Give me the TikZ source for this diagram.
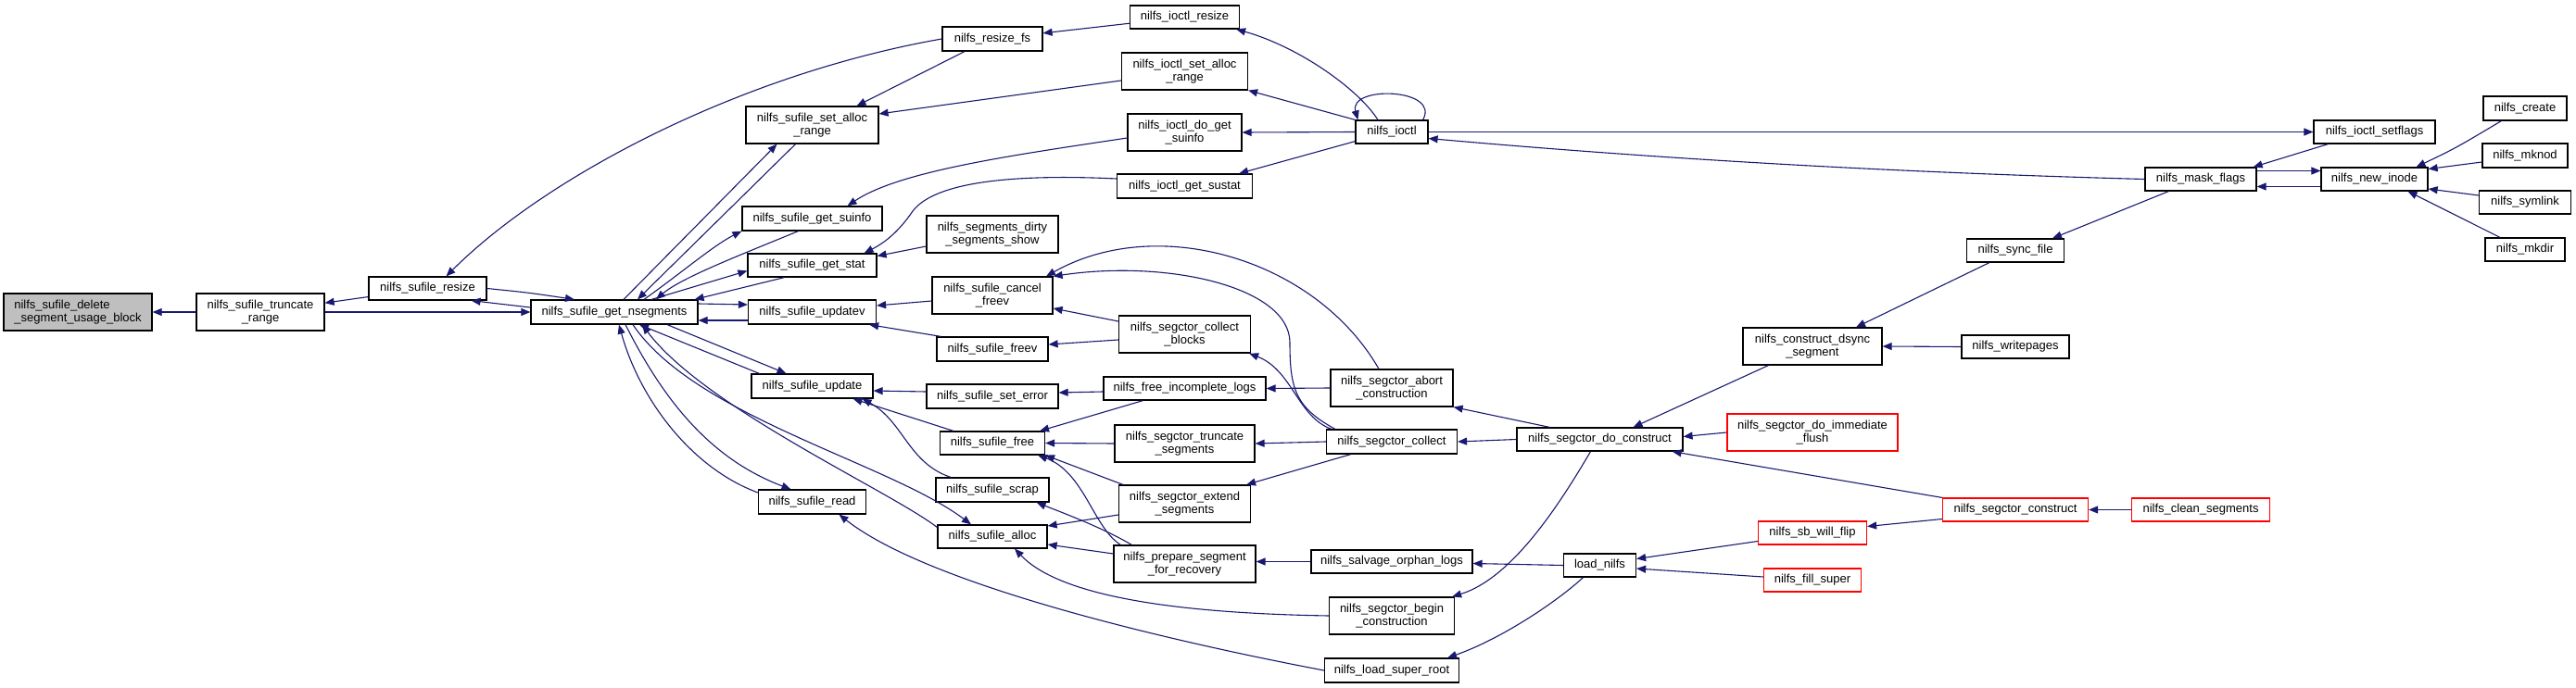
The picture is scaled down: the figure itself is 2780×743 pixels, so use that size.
\documentclass[tikz,border=0pt]{standalone}
\usepackage{fontspec}
\setmainfont{Liberation Sans}
\usetikzlibrary{arrows.meta,calc}
\definecolor{edgeblue}{HTML}{191970}
\definecolor{nodegray}{HTML}{BFBFBF}
\definecolor{nodered}{HTML}{FF0000}
\begin{document}
\begin{tikzpicture}[x=1pt,y=-1pt,
  nd/.style={draw=black, line width=1.2pt, fill=white, inner sep=0pt, align=center, font=\fontsize{13}{14.5}\selectfont},
  rednd/.style={nd, draw=nodered},
  sz/.style 2 args={minimum width=#1pt, minimum height=#2pt},
  edge/.style={draw=edgeblue, line width=1.1pt, -{Triangle[length=10pt,width=8pt]}}]
\useasboundingbox (0,0) rectangle (2780,743);
% column 0-2
\node[nd, sz={160}{40}, fill=nodegray, align=left] (del) at (84,337) {nilfs\_sufile\_delete\\\_segment\_usage\_block};
\node[nd, sz={138}{40}] (trunc) at (281,337) {nilfs\_sufile\_truncate\\\_range};
\node[nd, sz={127}{25}] (resize) at (461.5,311.5) {nilfs\_sufile\_resize};
\node[nd, sz={180}{26}] (nseg) at (663,337) {nilfs\_sufile\_get\_nsegments};
% column B
\node[nd, sz={143}{40}] (setalloc) at (876.5,135) {nilfs\_sufile\_set\_alloc\\\_range};
\node[nd, sz={151}{26}] (getsuinfo) at (876.5,236) {nilfs\_sufile\_get\_suinfo};
\node[nd, sz={139}{25}] (getstat) at (876.5,286.5) {nilfs\_sufile\_get\_stat};
\node[nd, sz={138}{26}] (updatev) at (876.5,337) {nilfs\_sufile\_updatev};
\node[nd, sz={131}{26}] (update) at (876.5,417) {nilfs\_sufile\_update};
\node[nd, sz={116}{26}] (read) at (876.5,542) {nilfs\_sufile\_read};
% column C
\node[nd, sz={108}{26}] (resizefs) at (1071,42) {nilfs\_resize\_fs};
\node[nd, sz={142}{40}] (dirty) at (1071,253) {nilfs\_segments\_dirty\\\_segments\_show};
\node[nd, sz={130}{40}] (cancelfreev) at (1071,319) {nilfs\_sufile\_cancel\\\_freev};
\node[nd, sz={120}{26}] (freev) at (1071,377) {nilfs\_sufile\_freev};
\node[nd, sz={142}{26}] (seterror) at (1071,428) {nilfs\_sufile\_set\_error};
\node[nd, sz={113}{25}] (free) at (1071,478.5) {nilfs\_sufile\_free};
\node[nd, sz={122}{26}] (scrap) at (1071,529) {nilfs\_sufile\_scrap};
\node[nd, sz={118}{25}] (alloc) at (1071,579.5) {nilfs\_sufile\_alloc};
% column D
\node[nd, sz={118}{25}] (ioresize) at (1278.5,18.5) {nilfs\_ioctl\_resize};
\node[nd, sz={136}{40}] (iosetalloc) at (1278.5,77) {nilfs\_ioctl\_set\_alloc\\\_range};
\node[nd, sz={123}{40}] (iodoget) at (1278.5,143) {nilfs\_ioctl\_do\_get\\\_suinfo};
\node[nd, sz={146}{26}] (iogetsustat) at (1278.5,201) {nilfs\_ioctl\_get\_sustat};
\node[nd, sz={142}{40}] (collectblocks) at (1278.5,361) {nilfs\_segctor\_collect\\\_blocks};
\node[nd, sz={175}{25}] (freeincomplete) at (1278.5,419.5) {nilfs\_free\_incomplete\_logs};
\node[nd, sz={151}{40}] (truncseg) at (1278.5,479) {nilfs\_segctor\_truncate\\\_segments};
\node[nd, sz={142}{40}] (extend) at (1278.5,544) {nilfs\_segctor\_extend\\\_segments};
\node[nd, sz={153}{40}] (prepare) at (1278.5,609) {nilfs\_prepare\_segment\\\_for\_recovery};
% column E
\node[nd, sz={78}{25}] (ioctl) at (1502,142.5) {nilfs\_ioctl};
\node[nd, sz={132}{40}] (abort) at (1502,419) {nilfs\_segctor\_abort\\\_construction};
\node[nd, sz={141}{26}] (collect) at (1502,477) {nilfs\_segctor\_collect};
\node[nd, sz={174}{25}] (salvage) at (1502,606.5) {nilfs\_salvage\_orphan\_logs};
\node[nd, sz={135}{40}] (begin) at (1502,665) {nilfs\_segctor\_begin\\\_construction};
\node[nd, sz={145}{26}] (loadsr) at (1502,724) {nilfs\_load\_super\_root};
% column F
\node[nd, sz={179}{25}] (doconstruct) at (1726.5,474.5) {nilfs\_segctor\_do\_construct};
\node[nd, sz={78}{25}] (loadnilfs) at (1726.5,610.5) {load\_nilfs};
% column G
\node[nd, sz={150}{40}] (dsync) at (1956,374) {nilfs\_construct\_dsync\\\_segment};
\node[rednd, sz={184}{40}] (flush) at (1956,467) {nilfs\_segctor\_do\_immediate\\\_flush};
\node[rednd, sz={117}{25}] (willflip) at (1956,575.5) {nilfs\_sb\_will\_flip};
\node[rednd, sz={105}{25}] (fillsuper) at (1956,626.5) {nilfs\_fill\_super};
% column H
\node[nd, sz={105}{25}] (syncfile) at (2175,270.5) {nilfs\_sync\_file};
\node[nd, sz={116}{25}] (writepages) at (2175,374.5) {nilfs\_writepages};
\node[rednd, sz={157}{25}] (segconstruct) at (2175,550.5) {nilfs\_segctor\_construct};
% column I
\node[nd, sz={120}{25}] (maskflags) at (2375,193.5) {nilfs\_mask\_flags};
\node[rednd, sz={149}{25}] (clean) at (2375,550.5) {nilfs\_clean\_segments};
% column J
\node[nd, sz={131}{25}] (setflags) at (2562.5,142.5) {nilfs\_ioctl\_setflags};
\node[nd, sz={115}{25}] (newinode) at (2562.5,193.5) {nilfs\_new\_inode};
% column K
\node[nd, sz={90}{26}] (create) at (2725,117) {nilfs\_create};
\node[nd, sz={92}{26}] (mknod) at (2725,168) {nilfs\_mknod};
\node[nd, sz={99}{25}] (symlink) at (2725,218.5) {nilfs\_symlink};
\node[nd, sz={86}{25}] (mkdir) at (2725,269.5) {nilfs\_mkdir};

% ---- edges (arrow at callee) ----
\draw[edge] (trunc) -- (del);
\draw[edge] (resize) -- (trunc);
\draw[edge] (trunc.east) -- (nseg.west);
\draw[edge] (resize.east) .. controls (570,316) .. ($(nseg.north)+(-43,0)$);
\draw[edge] ($(nseg.west)+(0,-5)$) -- ($(resize.south)+(47,0)$);
\draw[edge] (resizefs.west) .. controls (800,80) and (590,190) .. ($(resize.north)+(20,0)$);
\draw[edge] (ioresize) -- (resizefs);
\draw[edge] ($(ioctl.north)+(-15,0)$) .. controls (1465,95) and (1400,50) .. ($(ioresize.south east)+(-4,0)$);
\draw[edge] ($(resizefs.south)+(-30,0)$) -- ($(setalloc.north)+(48,0)$);
\draw[edge] ($(iosetalloc.west)+(0,10)$) -- ($(setalloc.east)+(0,-12)$);
\draw[edge] (ioctl.north west) -- (iosetalloc.south east);
\draw[edge] (ioctl.west) -- (iodoget.east);
\draw[edge] ($(ioctl.south west)+(0,-3)$) -- ($(iogetsustat.north east)+(-15,0)$);
\draw[edge] ($(ioctl.north east)+(-6,0)$) .. controls (1555,95) and (1455,92) .. ($(ioctl.north west)+(3,0)$);
\draw[edge] ($(iodoget.west)+(0,6)$) .. controls (1090,168) and (970,185) .. ($(getsuinfo.north)+(38,0)$);
\draw[edge] ($(iogetsustat.west)+(0,-8)$) .. controls (1100,188) and (1010,195) .. (985,228) .. controls (970,250) and (955,262) .. ($(getstat.north)+(56,0)$);
\draw[edge] ($(dirty.west)+(0,13)$) -- ($(getstat.east)+(0,-10)$);
\draw[edge] ($(nseg.north)+(10,0)$) -- ($(setalloc.south)+(-38,0)$);
\draw[edge] ($(setalloc.south)+(-18,0)$) -- ($(nseg.north)+(25,0)$);
\draw[edge] ($(nseg.north)+(32,0)$) .. controls (735,295) and (770,265) .. (getsuinfo.south west);
\draw[edge] ($(getsuinfo.south)+(-15,0)$) .. controls (800,275) and (735,300) .. ($(nseg.north)+(45,0)$);
\draw[edge] ($(nseg.north)+(40,0)$) -- ($(getstat.west)+(0,6)$);
\draw[edge] ($(getstat.south)+(-30,0)$) -- ($(nseg.north east)+(-4,0)$);
\draw[edge] ($(nseg.east)+(0,-9)$) -- ($(updatev.west)+(0,-8)$);
\draw[edge] ($(updatev.west)+(0,9)$) -- ($(nseg.east)+(0,9)$);
\draw[edge] ($(cancelfreev.west)+(0,6)$) -- ($(updatev.east)+(0,-7)$);
\draw[edge] ($(freev.north west)+(5,0)$) -- ($(updatev.south east)+(-8,0)$);
\draw[edge] ($(collectblocks.west)+(0,-14)$) -- ($(cancelfreev.east)+(0,14)$);
\draw[edge] ($(collectblocks.west)+(0,6)$) -- ($(freev.east)+(0,-5)$);
\draw[edge] ($(abort.north)+(-14,0)$) .. controls (1420,280) and (1250,230) .. ($(cancelfreev.north)+(58,0)$);
\draw[edge] ($(collect.north west)+(10,0)$) .. controls (1398,440) and (1392,420) .. (1392,370) .. controls (1392,310) and (1260,280) .. (cancelfreev.north east);
\draw[edge] ($(collect.north west)+(6,0)$) .. controls (1400,450) and (1395,400) .. ($(collectblocks.south east)+(-2,0)$);
\draw[edge] ($(freeincomplete.west)+(0,3.5)$) -- ($(seterror.east)+(0,-4)$);
\draw[edge] ($(seterror.west)+(0,-5)$) -- ($(update.east)+(0,5)$);
\draw[edge] ($(free.north west)+(15,0)$) -- ($(update.south)+(44,0)$);
\draw[edge] ($(scrap.north)+(-45,0)$) .. controls (980,500) and (975,455) .. ($(update.south)+(54,0)$);
\draw[edge] ($(freeincomplete.south)+(-45,0)$) -- ($(free.north east)+(-6,0)$);
\draw[edge] (truncseg.west) -- (free.east);
\draw[edge] ($(extend.north west)+(5,0)$) -- (free.south east);
\draw[edge] ($(prepare.north west)+(8,0)$) .. controls (1180,570) and (1170,510) .. ($(free.south east)+(-8,0)$);
\draw[edge] ($(prepare.north west)+(20,0)$) .. controls (1190,570) and (1150,555) .. ($(scrap.south east)+(-14,0)$);
\draw[edge] ($(extend.west)+(0,12)$) -- ($(alloc.east)+(0,-11.5)$);
\draw[edge] ($(prepare.west)+(0,-11)$) -- ($(alloc.east)+(0,8.5)$);
\draw[edge] (salvage.west) -- ($(prepare.east)+(0,-2.5)$);
\draw[edge] (begin.west) .. controls (1250,662) and (1140,640) .. ($(alloc.south)+(24,0)$);
\draw[edge] (loadsr.west) .. controls (1250,690) and (1000,630) .. ($(read.south)+(29,0)$);
\draw[edge] ($(nseg.south)+(57,0)$) -- ($(update.north)+(-28,0)$);
\draw[edge] ($(update.north west)+(9,0)$) -- ($(nseg.south)+(27,0)$);
\draw[edge] ($(nseg.south)+(12,0)$) .. controls (715,430) and (765,495) .. ($(read.north)+(-23,0)$);
\draw[edge] ($(read.west)+(0,-10)$) .. controls (745,505) and (690,430) .. ($(nseg.south)+(5,0)$);
\draw[edge] ($(nseg.south)+(20,0)$) .. controls (750,450) and (960,500) .. ($(alloc.north)+(-23,0)$);
\draw[edge] ($(alloc.west)+(0,-10)$) .. controls (960,530) and (760,440) .. ($(nseg.south)+(30,0)$);
% right part
\draw[edge] ($(dsync.south west)+(28,0)$) -- ($(doconstruct.north)+(36,0)$);
\draw[edge] (flush.west) -- ($(doconstruct.east)+(0,-3)$);
\draw[edge] (segconstruct.north west) -- ($(doconstruct.south east)+(-12,0)$);
\draw[edge] ($(segconstruct.west)+(0,10)$) -- ($(willflip.east)+(0,-7)$);
\draw[edge] (clean) -- (segconstruct);
\draw[edge] ($(willflip.west)+(0,9)$) -- ($(loadnilfs.east)+(0,-7)$);
\draw[edge] ($(fillsuper.west)+(0,-3.5)$) -- ($(loadnilfs.east)+(0,3.5)$);
\draw[edge] (loadnilfs.west) -- ($(salvage.east)+(0,2)$);
\draw[edge] ($(loadnilfs.south)+(-18,0)$) .. controls (1680,650) and (1620,690) .. ($(loadsr.north east)+(-13,0)$);
\draw[edge] ($(doconstruct.south)+(-10,0)$) .. controls (1680,550) and (1630,625) .. ($(begin.north east)+(-3,0)$);
\draw[edge] ($(doconstruct.north west)+(36,0)$) -- (abort.south east);
\draw[edge] (doconstruct.west) -- (collect.east);
\draw[edge] (collect.west) -- (truncseg.east);
\draw[edge] ($(collect.south west)+(27,0)$) -- ($(extend.north east)+(-5,0)$);
\draw[edge] (abort.west) -- (freeincomplete.east);
\draw[edge] ($(syncfile.south west)+(25,0)$) -- ($(dsync.north)+(47,0)$);
\draw[edge] (writepages.west) -- (dsync.east);
\draw[edge] ($(maskflags.south west)+(26,0)$) -- ($(syncfile.north)+(40,0)$);
\draw[edge] (maskflags.west) .. controls (2000,185) and (1750,168) .. ($(ioctl.east)+(0,7)$);
\draw[edge] (ioctl.east) -- (setflags.west);
\draw[edge] ($(setflags.south west)+(16,0)$) -- ($(maskflags.north east)+(-4,0)$);
\draw[edge] ($(maskflags.east)+(0,-9)$) -- ($(newinode.west)+(0,-9)$);
\draw[edge] ($(newinode.west)+(0,8)$) -- ($(maskflags.east)+(0,8)$);
\draw[edge] ($(create.south west)+(20,0)$) .. controls (2650,160) .. ($(newinode.north)+(45,0)$);
\draw[edge] ($(mknod.west)+(0,7)$) -- ($(newinode.east)+(0,-11)$);
\draw[edge] ($(symlink.west)+(0,-7.5)$) -- ($(newinode.east)+(0,10.5)$);
\draw[edge] ($(mkdir.north)+(-27,0)$) -- ($(newinode.south)+(36,0)$);
\end{tikzpicture}
\end{document}
